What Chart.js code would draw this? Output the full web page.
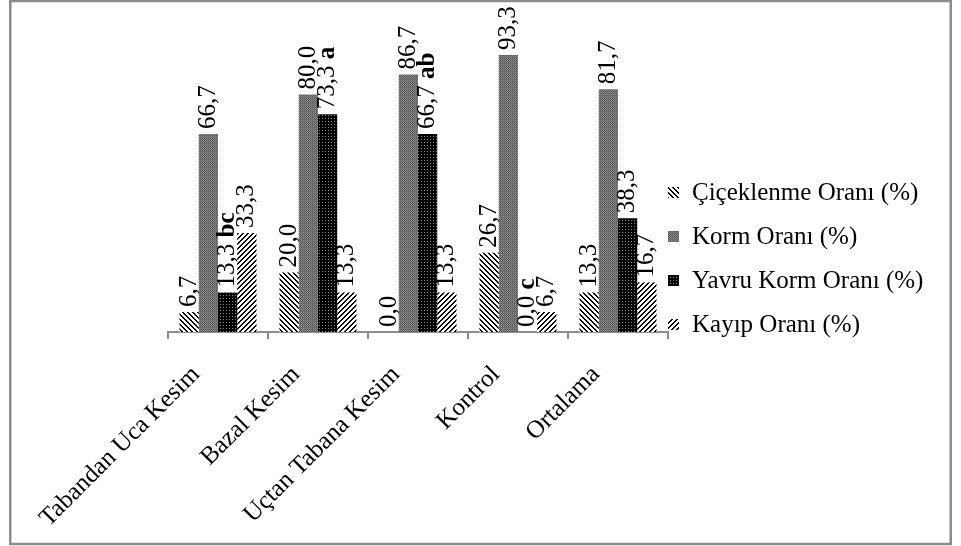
<!DOCTYPE html>
<html>
<head>
<meta charset="utf-8">
<script src="https://cdn.jsdelivr.net/npm/chart.js@4"></script>
<style>
  html, body { margin: 0; padding: 0; background: #fff; }
</style>
</head>
<body>
<canvas id="grafik" width="961" height="546"></canvas>
<script>
// oranlar (%)
const uygulamalar = ['Tabandan Uca Kesim', 'Bazal Kesim', 'Uçtan Tabana Kesim', 'Kontrol', 'Ortalama'];
const cicekOrani = [6.7, 20.0, 0.0, 26.7, 13.3];
const kormOrani = [66.7, 80.0, 86.7, 93.3, 81.7];
const yavruKormOrani = [13.3, 73.3, 66.7, 0.0, 38.3];
const kayipOrani = [33.3, 13.3, 13.3, 6.7, 16.7];
const yavruHarfler = ['bc', 'a', 'ab', 'c', ''];
const seriAdlari = ['Çiçeklenme Oranı (%)', 'Korm Oranı (%)', 'Yavru Korm Oranı (%)', 'Kayıp Oranı (%)'];

const FONT = '"Liberation Serif", "Times New Roman", serif';

// piksel desenleri
function desen(boyut, renk) {
  const c = document.createElement('canvas');
  c.width = boyut; c.height = boyut;
  const g = c.getContext('2d');
  for (let y = 0; y < boyut; y++) {
    for (let x = 0; x < boyut; x++) {
      g.fillStyle = renk(x, y);
      g.fillRect(x, y, 1, 1);
    }
  }
  return document.getElementById('grafik').getContext('2d').createPattern(c, 'repeat');
}

const taramaSol = desen(5, (x, y) => ((x - y + 10) % 5 < 2 ? '#000' : '#fff'));
const taramaSag = desen(5, (x, y) => ((x + y) % 5 < 2 ? '#000' : '#fff'));
const griDesen = desen(4, (x, y) => ((x + y) % 2 === 0 ? '#555' : (y % 2 === 0 ? '#9c9c9c' : '#7e7e7e')));
const siyahDesen = desen(3, (x, y) => (x === 1 && y === 1 ? '#8a8a8a' : '#000'));

const desenler = [taramaSol, griDesen, siyahDesen, taramaSag];

const cerceve = {
  id: 'cerceve',
  beforeDraw(chart) {
    const ctx = chart.ctx;
    ctx.save();
    ctx.fillStyle = '#fff';
    ctx.fillRect(0, 0, chart.width, chart.height);
    ctx.strokeStyle = '#8c8c8c';
    ctx.lineWidth = 2.5;
    ctx.strokeRect(10.25, 1, 940.5, 543);
    ctx.restore();
  }
};

// çubuk üstü değerler, dikey yazı
const degerEtiketleri = {
  id: 'degerEtiketleri',
  afterDatasetsDraw(chart) {
    const ctx = chart.ctx;
    ctx.save();
    ctx.fillStyle = '#000';
    ctx.textBaseline = 'middle';
    ctx.textAlign = 'left';
    chart.data.datasets.forEach((ds, i) => {
      chart.getDatasetMeta(i).data.forEach((bar, j) => {
        const metin = ds.data[j].toFixed(1).replace('.', ',');
        ctx.save();
        ctx.translate(bar.x, bar.y - 5);
        ctx.rotate(-Math.PI / 2);
        ctx.font = '25px ' + FONT;
        ctx.fillText(metin, 0, 0);
        if (i === 2 && yavruHarfler[j]) {
          const w = ctx.measureText(metin + ' ').width;
          ctx.font = 'bold 25px ' + FONT;
          ctx.fillText(yavruHarfler[j], w, 0);
        }
        ctx.restore();
      });
    });
    ctx.restore();
  }
};

const lejant = {
  id: 'lejant',
  afterDraw(chart) {
    const ctx = chart.ctx;
    const x0 = chart.chartArea.right;
    ctx.save();
    ctx.font = '25px ' + FONT;
    ctx.textBaseline = 'middle';
    ctx.fillStyle = '#000';
    seriAdlari.forEach((ad, i) => {
      const y = 193 + i * 44;
      ctx.fillStyle = desenler[i];
      ctx.fillRect(x0, y - 6, 11, 11);
      ctx.fillStyle = '#000';
      ctx.fillText(ad, x0 + 24, y);
    });
    ctx.restore();
  }
};

new Chart(document.getElementById('grafik'), {
  type: 'bar',
  data: {
    labels: uygulamalar,
    datasets: [cicekOrani, kormOrani, yavruKormOrani, kayipOrani].map((veri, i) => ({
      label: seriAdlari[i],
      data: veri,
      backgroundColor: desenler[i],
      borderWidth: 0,
      categoryPercentage: 0.77,
      barPercentage: 1
    }))
  },
  options: {
    responsive: false,
    devicePixelRatio: 1,
    animation: false,
    layout: { padding: { left: 168, right: 293, top: 35, bottom: 4 } },
    plugins: { legend: { display: false }, tooltip: { enabled: false } },
    scales: {
      x: {
        grid: { drawOnChartArea: false, drawTicks: true, tickLength: 7, color: '#8c8c8c', lineWidth: 2, offset: true },
        border: { color: '#8c8c8c', width: 2 },
        ticks: { color: '#000', font: { family: FONT, size: 25 }, minRotation: 45, maxRotation: 45, padding: 21, labelOffset: -22 },
        afterFit(scale) { scale.height = 210; }
      },
      y: { display: false, min: 0, max: 100 }
    }
  },
  plugins: [cerceve, degerEtiketleri, lejant]
});
</script>
</body>
</html>
